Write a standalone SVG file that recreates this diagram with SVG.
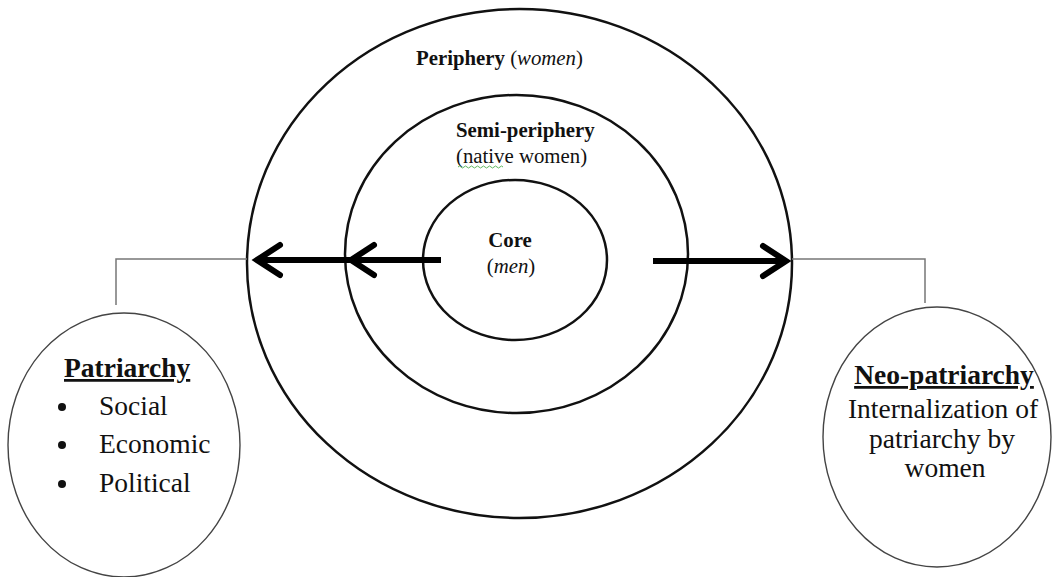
<svg xmlns="http://www.w3.org/2000/svg" width="1052" height="577" viewBox="0 0 1052 577">
  <style>
    .ring { fill: none; stroke: #111; stroke-width: 2.5; }
    .bubble { fill: #fff; stroke: #444; stroke-width: 1.4; }
    .thin { fill: none; stroke: #777; stroke-width: 1.5; }
    .shaft { fill: none; stroke: #000; stroke-width: 6; }
    .head { fill: none; stroke: #000; stroke-width: 6; stroke-linecap: round; stroke-linejoin: miter; }
    text { font-family: "Liberation Serif", "Times New Roman", serif; fill: #111; }
    .lab { font-size: 20.8px; }
    .big { font-size: 27.5px; }
    .b { font-weight: bold; }
    .i { font-style: italic; }
  </style>
  <rect width="1052" height="577" fill="#fff"/>

  <g id="periphery">
    <ellipse class="ring" cx="519.5" cy="263.5" rx="272.5" ry="254.5"/>
    <text class="lab" x="416" y="65"><tspan class="b">Periphery</tspan> (<tspan class="i">women</tspan>)</text>
  </g>

  <g id="semi-periphery">
    <ellipse class="ring" cx="516.5" cy="254" rx="171.5" ry="159"/>
    <text class="lab b" x="456" y="137">Semi-periphery</text>
    <text class="lab" x="456" y="163">(native women)</text>
    <path d="M458 167 q1.5 -2 3 0 t3 0 t3 0 t3 0 t3 0 t3 0 t3 0 t3 0 t3 0 t3 0 t3 0 t3 0 t3 0 t3 0 t3 0" fill="none" stroke="#5fb85f" stroke-width="1"/>
  </g>

  <g id="core">
    <ellipse class="ring" cx="515" cy="260" rx="92" ry="80"/>
    <text class="lab b" x="510" y="247" text-anchor="middle">Core</text>
    <text class="lab" x="511" y="273" text-anchor="middle">(<tspan class="i">men</tspan>)</text>
  </g>

  <g id="connectors">
    <polyline class="thin" points="247,259 116,259 116,305"/>
    <polyline class="thin" points="792,259 925,259 925,303"/>
    <line class="shaft" x1="441" y1="260" x2="258" y2="260"/>
    <polyline class="head" points="280,245 257,260 280,275"/>
    <polyline class="head" points="374,245 351,260 374,275"/>
    <line class="shaft" x1="653" y1="261" x2="785" y2="261"/>
    <polyline class="head" points="763,246 786,261 763,276"/>
  </g>

  <g id="patriarchy">
    <ellipse class="bubble" cx="124" cy="445" rx="116" ry="132"/>
    <text class="big b" x="64" y="377" text-decoration="underline">Patriarchy</text>
    <circle cx="62" cy="407" r="4" fill="#111"/>
    <circle cx="62" cy="445" r="4" fill="#111"/>
    <circle cx="62" cy="484" r="4" fill="#111"/>
    <text class="big" x="99" y="415">Social</text>
    <text class="big" x="99" y="453">Economic</text>
    <text class="big" x="99" y="492">Political</text>
  </g>

  <g id="neo-patriarchy">
    <ellipse class="bubble" cx="937" cy="437" rx="114" ry="130"/>
    <text class="big b" x="944" y="384" text-anchor="middle" text-decoration="underline">Neo-patriarchy</text>
    <text class="big" x="943" y="418" text-anchor="middle">Internalization of</text>
    <text class="big" x="942" y="448" text-anchor="middle">patriarchy by</text>
    <text class="big" x="945" y="477" text-anchor="middle">women</text>
  </g>
</svg>
